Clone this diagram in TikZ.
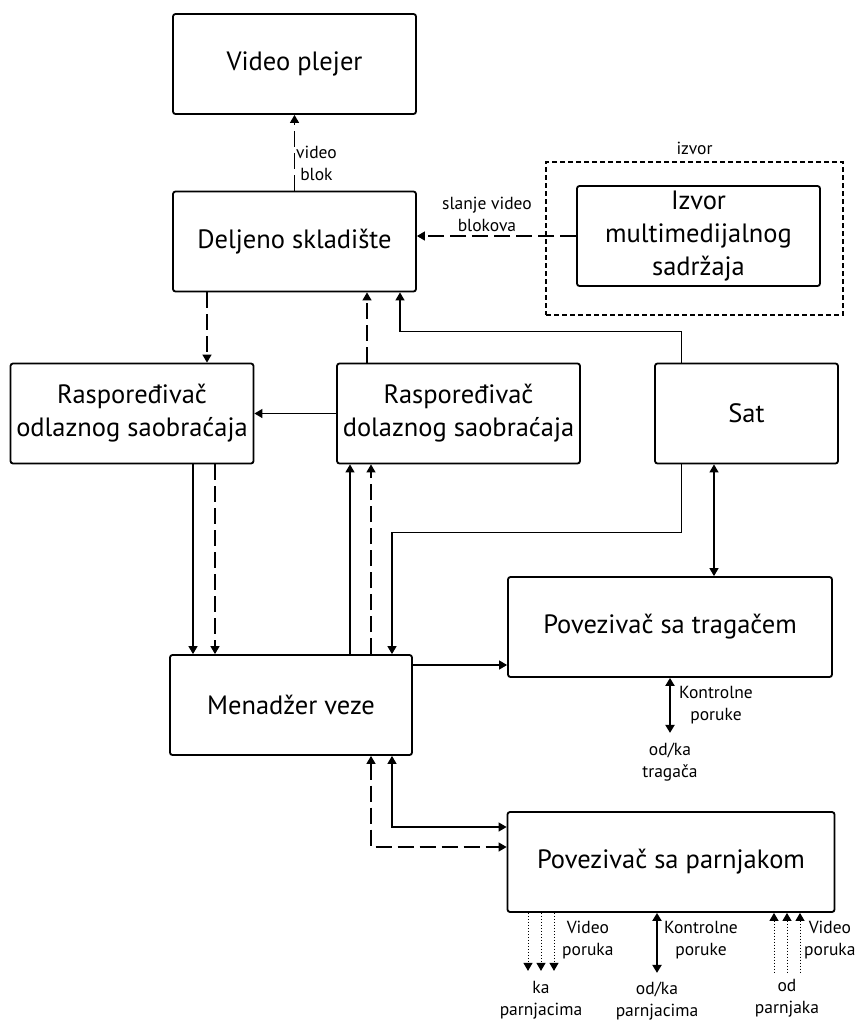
\documentclass[tikz,border=0pt]{standalone}
\usepackage{fontspec}
\setmainfont{PT Sans}
\usetikzlibrary{arrows.meta,positioning,calc}

\begin{document}
\begin{tikzpicture}[x=1pt,y=1pt,>={Triangle[length=8pt,width=9pt]}]
    \tikzstyle{blok}=[rectangle,draw,line width=1.8pt,rounded corners=2.5pt,align=center,minimum width=243pt,minimum height=100pt,inner sep=0pt,font=\fontsize{26.5}{33}\selectfont]
    \tikzstyle{lbl}=[align=center,inner sep=1pt,font=\fontsize{17.5}{22}\selectfont]
    \tikzstyle{veza}=[line width=1.3pt]
    \tikzstyle{crtice}=[veza,dash pattern=on 16pt off 6pt]
    \tikzstyle{tacke}=[line width=1pt,dash pattern=on 1.5pt off 1.5pt]
    \tikzstyle{jaka}=[line width=2.4pt]
    \useasboundingbox (0,0) rectangle (859,-1021);
    \node[blok] (plejer) at (294.5,-64) {Video plejer};
    \node[blok] (skladiste) at (294.5,-241.5) {Deljeno skladište};
    \node[draw,line width=1.5pt,dash pattern=on 5pt off 3pt,minimum width=297pt,minimum height=153pt,label={[lbl,yshift=5pt]above:izvor}] (okvir) at (694.5,-238.5) {};
    \node[blok] (izvor) at (698.5,-236) {Izvor\\multimedijalnog\\sadržaja};
    \node[blok] (odlazni) at (132,-413.5) {Raspoređivač\\odlaznog saobraćaja};
    \node[blok] (dolazni) at (458.5,-413.5) {Raspoređivač\\dolaznog saobraćaja};
    \node[blok,minimum width=183pt] (sat) at (746.5,-413.5) {Sat};
    \node[blok,minimum width=242pt] (menadzer) at (291,-705) {Menadžer veze};
    \node[blok,minimum width=324pt] (tragac) at (670,-627) {Povezivač sa tragačem};
    \node[blok,minimum width=327pt] (parnjak) at (671,-862) {Povezivač sa parnjakom};
    \draw[crtice,->] (skladiste.north) -- (plejer.south) node[lbl,pos=0.36,right] {video\\blok};
    \draw[crtice,->] (izvor.west) -- (izvor.west -| skladiste.east) node[lbl,pos=0.56,above=3pt] {slanje video\\blokova};
    \draw[crtice,->] ([xshift=-87.5pt]skladiste.south) -- ([xshift=-87.5pt]skladiste.south |- odlazni.north);
    \draw[crtice,->] ([xshift=-91.5pt]dolazni.north) -- ([xshift=-91.5pt]dolazni.north |- skladiste.south);
    \draw[veza,->] ([xshift=-65pt]sat.north) -- ++(0,31) -| ([xshift=105.5pt]skladiste.south);
    \draw[veza,->] (dolazni.west) -- (odlazni.east);
    \draw[veza,->] ([xshift=61pt]odlazni.south) -- ([xshift=61pt]odlazni.south |- menadzer.north);
    \draw[crtice,->] ([xshift=83pt]odlazni.south) -- ([xshift=83pt]odlazni.south |- menadzer.north);
    \draw[veza,->] ([xshift=59pt]menadzer.north) -- ([xshift=59pt]menadzer.north |- dolazni.south);
    \draw[crtice,->] ([xshift=80pt]menadzer.north) -- ([xshift=80pt]menadzer.north |- dolazni.south);
    \draw[veza,->] ([xshift=-65pt]sat.south) -- ++(0,-68) -| ([xshift=101pt]menadzer.north);
    \draw[veza,<->] ([xshift=-32.5pt]sat.south) -- ([xshift=-32.5pt]sat.south |- tragac.north);
    \draw[veza,->] ([yshift=40pt]menadzer.east) -- ([yshift=40pt]menadzer.east -| tragac.west);
    \draw[veza,<->] ([xshift=101pt]menadzer.south) |- ([yshift=35pt]parnjak.west);
    \draw[crtice,<->] ([xshift=80pt]menadzer.south) |- ([yshift=15pt]parnjak.west);
    \draw[jaka,<->] (tragac.south) -- ++(0,-55) coordinate (tk);
    \node[lbl,anchor=west] (kontrolt) at ([xshift=8pt,yshift=-27pt]tragac.south) {Kontrolne\\poruke};
    \node[lbl,below=9pt of tk] (odkat) {od/ka\\tragača};
    \foreach \dx/\n in {-143/a,-130/b,-117/c}
        \draw[tacke,->] ([xshift=\dx pt]parnjak.south) -- ++(0,-58) coordinate (ka\n);
    \node[lbl,anchor=west] (vidka) at ([xshift=-110pt,yshift=-27pt]parnjak.south) {Video\\poruka};
    \node[lbl,below=9pt of kab] (kap) {ka\\parnjacima};
    \draw[jaka,<->] ([xshift=-14pt]parnjak.south) -- ++(0,-60) coordinate (kp);
    \node[lbl,anchor=west] (kontrolp) at ([xshift=-8pt,yshift=-27pt]parnjak.south) {Kontrolne\\poruke};
    \node[lbl,below=8pt of kp] (odkap) {od/ka\\parnjacima};
    \foreach \dx/\n in {103/a,116/b,129/c}
        \draw[tacke,<-] ([xshift=\dx pt]parnjak.south) -- ++(0,-60) coordinate (od\n);
    \node[lbl,anchor=west] (vidod) at ([xshift=132pt,yshift=-27pt]parnjak.south) {Video\\poruka};
    \node[lbl,below=5pt of odb] (odp) {od\\parnjaka};
\end{tikzpicture}
\end{document}
